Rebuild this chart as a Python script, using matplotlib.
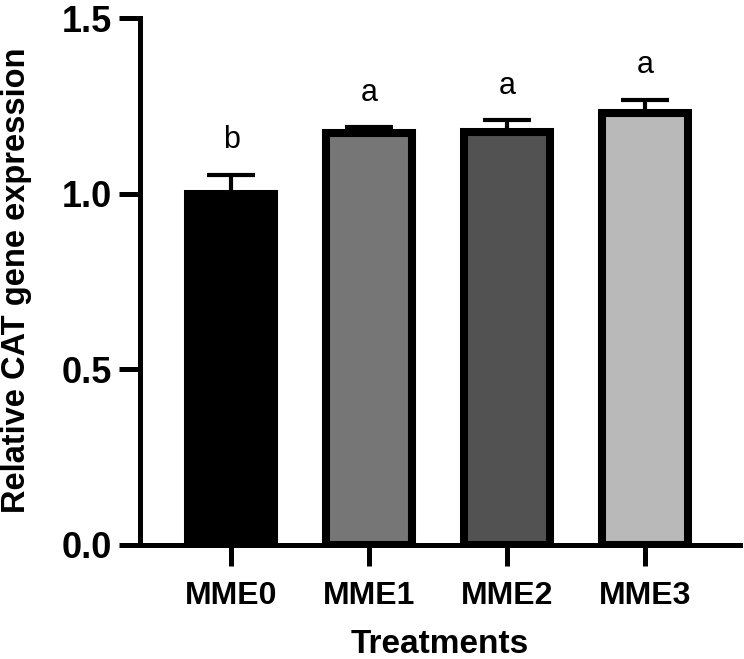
import matplotlib.pyplot as plt
import numpy as np

# data
treatments = ["MME0", "MME1", "MME2", "MME3"]
means = [1.0, 1.172, 1.175, 1.23]
errors = [0.054, 0.018, 0.035, 0.038]
letters = ["b", "a", "a", "a"]
bar_colors = ["#000000", "#767676", "#525252", "#b9b9b9"]

plt.rcParams['font.family'] = ['Liberation Sans', 'DejaVu Sans']

fig = plt.figure(figsize=(7.44, 6.59), dpi=100)
ax = fig.add_axes([140/744, 1-545/659, 600/744, (545-18)/659])

x = np.arange(len(treatments))
ax.bar(x, means, width=0.62, color=bar_colors, edgecolor="black", linewidth=5.8, zorder=2)
ax.errorbar(x, means, yerr=[np.zeros(len(errors)), errors], fmt="none", ecolor="black",
            elinewidth=3, capsize=17, capthick=3, zorder=1)

for xi, m, e, lab in zip(x, means, errors, letters):
    ax.text(xi, m + e + 0.055, lab, ha="center", va="bottom", fontsize=22)

ax.set_xlim(-0.66, 3.69)
ax.set_ylim(0, 1.5)
ax.set_yticks([0, 0.5, 1.0, 1.5])
ax.set_yticklabels(["0.0", "0.5", "1.0", "1.5"], fontsize=26, fontweight="bold")
ax.set_xticks(x)
ax.set_xticklabels(treatments, fontsize=23, fontweight="bold")

for s in ["top", "right"]:
    ax.spines[s].set_visible(False)
for s in ["left", "bottom"]:
    ax.spines[s].set_linewidth(3.6)
ax.tick_params(axis="y", length=15, width=3.6, pad=5)
ax.tick_params(axis="x", length=15, width=3.6, pad=11)

ax.set_ylabel("Relative CAT gene expression", fontsize=23.5, fontweight="bold")
ax.yaxis.set_label_coords(-0.18, 0.503)
ax.set_xlabel("Treatments", fontsize=24, fontweight="bold", va="baseline")
ax.xaxis.set_label_coords(0.5, -0.205)

fig.savefig("out.png", dpi=100)
